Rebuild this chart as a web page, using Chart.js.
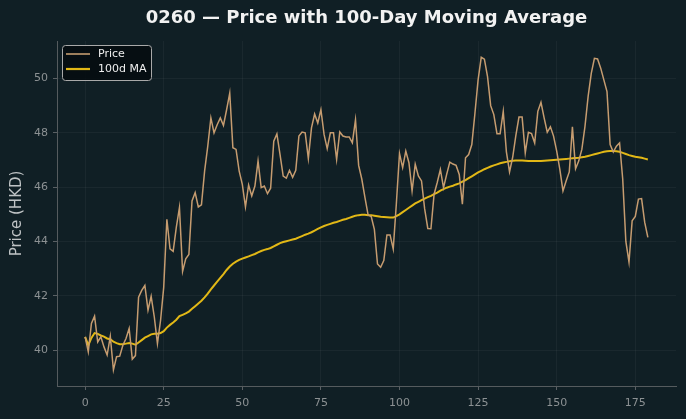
<!DOCTYPE html>
<html>
<head>
<meta charset="utf-8">
<script src="https://cdn.jsdelivr.net/npm/chart.js@4"></script>
<style>
  html, body { margin: 0; padding: 0; background: #101f25; }
  canvas { display: block; }
</style>
</head>
<body>
<canvas id="chart" width="686" height="419"></canvas>
<script>
// daily closing price, index 0..179
const price = [
  40.49, 39.94, 40.98, 41.25, 40.30, 40.49, 40.12, 39.82, 40.51, 39.27,
  39.76, 39.78, 40.18, 40.43, 40.80, 39.67, 39.80, 41.95, 42.20, 42.38,
  41.47, 41.98, 41.22, 40.24, 41.10, 42.32, 44.82, 43.73, 43.64, 44.52,
  45.25, 42.90, 43.36, 43.52, 45.49, 45.80, 45.27, 45.35, 46.59, 47.50,
  48.55, 48.00, 48.30, 48.55, 48.27, 48.85, 49.46, 47.45, 47.39, 46.59,
  46.10, 45.27, 46.08, 45.68, 46.04, 46.96, 45.98, 46.04, 45.76, 45.96,
  47.69, 47.96, 47.20, 46.41, 46.33, 46.62, 46.36, 46.62, 47.88, 48.03,
  48.00, 47.05, 48.18, 48.69, 48.36, 48.85, 47.94, 47.42, 48.00, 48.00,
  47.02, 48.03, 47.88, 47.85, 47.85, 47.63, 48.48, 46.80, 46.30, 45.62,
  44.98, 44.92, 44.45, 43.17, 43.05, 43.30, 44.24, 44.24, 43.72, 45.40,
  47.24, 46.72, 47.33, 46.90, 45.86, 46.84, 46.41, 46.23, 45.20, 44.48,
  44.47, 45.74, 46.17, 46.65, 45.98, 46.47, 46.92, 46.85, 46.80, 46.47,
  45.37, 47.08, 47.20, 47.57, 48.73, 49.95, 50.78, 50.71, 50.07, 49.00,
  48.67, 47.97, 47.97, 48.79, 47.30, 46.56, 47.10, 47.90, 48.58, 48.58,
  47.26, 48.02, 47.97, 47.63, 48.79, 49.12, 48.55, 48.02, 48.22, 47.88,
  47.33, 46.65, 45.86, 46.23, 46.56, 48.22, 46.68, 46.96, 47.39, 48.24,
  49.34, 50.19, 50.74, 50.72, 50.38, 49.95, 49.52, 47.57, 47.29, 47.51,
  47.63, 46.30, 44.00, 43.24, 44.76, 44.92, 45.56, 45.58, 44.70, 44.15
];

// 100-day moving average as drawn
const ma100 = [
  40.49, 40.18, 40.45, 40.63, 40.60, 40.54, 40.50, 40.43, 40.40, 40.31,
  40.26, 40.22, 40.22, 40.24, 40.26, 40.24, 40.20, 40.28, 40.37, 40.46,
  40.52, 40.58, 40.60, 40.60, 40.63, 40.70, 40.83, 40.93, 41.02, 41.12,
  41.25, 41.30, 41.35, 41.42, 41.52, 41.62, 41.72, 41.82, 41.94, 42.08,
  42.24, 42.38, 42.52, 42.66, 42.80, 42.95, 43.08, 43.18, 43.26, 43.32,
  43.37, 43.41, 43.45, 43.50, 43.54, 43.60, 43.65, 43.69, 43.72, 43.76,
  43.82, 43.88, 43.94, 43.98, 44.01, 44.04, 44.07, 44.10, 44.15, 44.20,
  44.25, 44.29, 44.34, 44.40, 44.46, 44.52, 44.57, 44.61, 44.65, 44.69,
  44.72, 44.76, 44.80, 44.83, 44.87, 44.91, 44.95, 44.97, 44.98, 44.98,
  44.97, 44.97, 44.95, 44.93, 44.91, 44.90, 44.89, 44.88, 44.88, 44.93,
  45.00, 45.08, 45.16, 45.24, 45.32, 45.40, 45.46, 45.52, 45.58, 45.63,
  45.68, 45.74, 45.80, 45.87, 45.93, 45.98, 46.02, 46.05, 46.10, 46.14,
  46.20, 46.26, 46.33, 46.40, 46.47, 46.54, 46.60, 46.66, 46.71, 46.76,
  46.80, 46.84, 46.88, 46.91, 46.93, 46.95, 46.97, 46.98, 46.98, 46.98,
  46.97, 46.96, 46.96, 46.96, 46.96, 46.96, 46.97, 46.98, 46.99, 47.00,
  47.01, 47.02, 47.03, 47.04, 47.05, 47.06, 47.07, 47.08, 47.10, 47.12,
  47.15, 47.18, 47.21, 47.24, 47.27, 47.30, 47.32, 47.33, 47.33, 47.32,
  47.30, 47.26, 47.22, 47.18, 47.15, 47.12, 47.10, 47.08, 47.05, 47.02
];

const xTicks = [0, 25, 50, 75, 100, 125, 150, 175];
const yTicks = [40, 42, 44, 46, 48, 50];

const priceColor = '#c69c70';
const maColor = '#e2b816';
const font = 'DejaVu Sans';

// title, y label and legend box drawn on top of the canvas
const decorations = {
  id: 'decorations',
  afterDraw(c) {
    const ctx = c.ctx;
    const area = c.chartArea;
    ctx.save();
    ctx.fillStyle = '#f2f2f2';
    ctx.font = 'bold 18px "' + font + '"';
    ctx.textAlign = 'center';
    ctx.textBaseline = 'middle';
    ctx.fillText('0260 \u2014 Price with 100-Day Moving Average', (area.left + area.right) / 2, 18);

    // y axis label
    ctx.save();
    ctx.translate(17, (area.top + area.bottom) / 2);
    ctx.rotate(-Math.PI / 2);
    ctx.fillStyle = '#bfc3c5';
    ctx.font = '15px "' + font + '"';
    ctx.fillText('Price (HKD)', 0, 0);
    ctx.restore();

    // legend
    const bx = 62.5, by = 45.5, bw = 89, bh = 35;
    ctx.beginPath();
    ctx.roundRect(bx, by, bw, bh, 3);
    ctx.fillStyle = 'rgba(5,12,15,0.85)';
    ctx.fill();
    ctx.strokeStyle = '#a9a9a9';
    ctx.lineWidth = 1;
    ctx.stroke();

    const items = [
      { label: 'Price', color: priceColor, w: 1.6, y: 54 },
      { label: '100d MA', color: maColor, w: 2.2, y: 69 }
    ];
    ctx.font = '11px "' + font + '"';
    ctx.textAlign = 'left';
    items.forEach(it => {
      ctx.beginPath();
      ctx.moveTo(66, it.y);
      ctx.lineTo(90, it.y);
      ctx.strokeStyle = it.color;
      ctx.lineWidth = it.w;
      ctx.stroke();
      ctx.fillStyle = '#eeeeee';
      ctx.fillText(it.label, 98, it.y + 0.5);
    });
    ctx.restore();
  }
};

new Chart(document.getElementById('chart'), {
  type: 'line',
  data: {
    datasets: [
      {
        label: 'Price',
        data: price.map((v, i) => ({ x: i, y: v })),
        borderColor: priceColor,
        borderWidth: 1.5,
        pointRadius: 0,
        tension: 0
      },
      {
        label: '100d MA',
        data: ma100.map((v, i) => ({ x: i, y: v })),
        borderColor: maColor,
        borderWidth: 2,
        pointRadius: 0,
        tension: 0
      }
    ]
  },
  options: {
    responsive: false,
    animation: false,
    layout: { padding: { top: 41, right: 10, left: 0, bottom: 0 } },
    plugins: {
      legend: { display: false },
      title: { display: false },
      tooltip: { enabled: false }
    },
    scales: {
      x: {
        type: 'linear',
        min: -8.95,
        max: 187.95,
        afterBuildTicks: s => { s.ticks = xTicks.map(v => ({ value: v })); },
        afterFit: s => { s.height = 33; },
        grid: { color: 'rgba(255,255,255,0.045)', tickColor: '#5a6064', tickLength: 4 },
        border: { color: '#555b5e', width: 1 },
        ticks: { color: '#8c9193', font: { family: font, size: 11 }, padding: 7, maxRotation: 0 }
      },
      y: {
        min: 38.68,
        max: 51.38,
        afterBuildTicks: s => { s.ticks = yTicks.map(v => ({ value: v })); },
        afterFit: s => { s.width = 57; },
        grid: { color: 'rgba(255,255,255,0.045)', tickColor: '#5a6064', tickLength: 4 },
        border: { color: '#555b5e', width: 1 },
        ticks: { color: '#8c9193', font: { family: font, size: 11 }, padding: 5 }
      }
    }
  },
  plugins: [decorations]
});
</script>
</body>
</html>
